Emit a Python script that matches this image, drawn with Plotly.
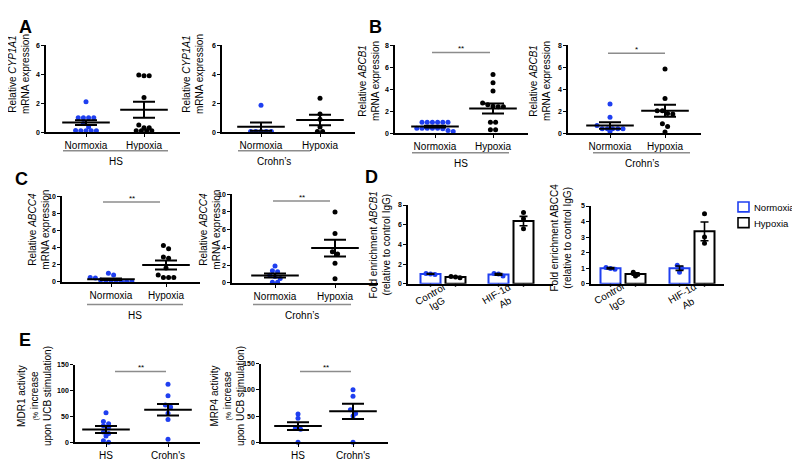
import plotly.graph_objects as go

W, H = 800, 460
BLUE = "#1f3ff0"
BLACK = "#000000"
GRAY = "#8c8c8c"
FONT = "Liberation Sans, Arial, sans-serif"

# ---------------- data ----------------
cats_nh = ["Normoxia", "Hypoxia"]
cats_e = ["HS", "Crohn's"]
cats_d = [["Control", "IgG"], ["HIF-1α", "Ab"]]

# A: CYP1A1
cyp1a1_hs_norm = [2.1, 1.0, 1.0, 1.0, 1.0, 0.6, 0.35, 0.12, 0.1, 0.1, 0.1, 0.1]
cyp1a1_hs_hyp = [3.9, 3.9, 3.95, 2.4, 0.5, 0.3, 0.3, 0.1, 0.1, 0.1, 0.1]
cyp1a1_hs_mean = [0.66, 1.55]
cyp1a1_hs_sem = [0.17, 0.55]
cyp1a1_cd_norm = [1.86, 0.05, 0.05, 0.05, 0.05, 0.05]
cyp1a1_cd_hyp = [2.35, 1.25, 0.9, 0.35, 0.05, 0.05]
cyp1a1_cd_mean = [0.38, 0.84]
cyp1a1_cd_sem = [0.28, 0.37]

# B: ABCB1
abcb1_hs_norm = [1.0, 1.0, 1.0, 1.0, 1.0, 1.0, 0.45, 0.45, 0.45, 0.45, 0.45, 0.4, 0.25, 0.15]
abcb1_hs_hyp = [5.35, 4.6, 3.85, 2.75, 2.6, 2.45, 2.4, 2.4, 1.0, 1.0, 0.3, 0.3]
abcb1_hs_mean = [0.6, 2.25]
abcb1_hs_sem = [0.08, 0.45]
abcb1_cd_norm = [2.65, 1.45, 0.7, 0.4, 0.4, 0.4, 0.4, 0.4, 0.15]
abcb1_cd_hyp = [5.85, 3.15, 2.05, 2.05, 1.8, 1.75, 0.85, 0.6, 0.1]
abcb1_cd_mean = [0.69, 2.05]
abcb1_cd_sem = [0.3, 0.55]

# C: ABCC4
abcc4_hs_norm = [1.0, 0.8, 0.5, 0.45, 0.2, 0.15, 0.1, 0.1, 0.05, 0.05, 0.05]
abcc4_hs_hyp = [4.25, 3.85, 2.9, 2.75, 1.6, 0.8, 0.5, 0.5, 0.5]
abcc4_hs_mean = [0.3, 1.97]
abcc4_hs_sem = [0.1, 0.53]
abcc4_cd_norm = [1.9, 1.35, 1.25, 0.85, 0.7, 0.5, 0.05, 0.05]
abcc4_cd_hyp = [8.0, 5.55, 3.5, 3.25, 2.2, 0.45]
abcc4_cd_mean = [0.83, 3.92]
abcc4_cd_sem = [0.22, 0.95]

# D: ChIP fold enrichment (Control IgG, HIF-1a Ab)
d_abcb1_norm_pts = [[1.05, 1.0, 0.95], [1.05, 0.8, 1.0]]
d_abcb1_hyp_pts = [[0.75, 0.7, 0.62], [7.25, 6.6, 5.6]]
d_abcb1_norm_mean = [1.0, 0.95]
d_abcb1_hyp_mean = [0.7, 6.37]
d_abcb1_norm_sem = [0.03, 0.08]
d_abcb1_hyp_sem = [0.04, 0.48]
d_abcc4_norm_pts = [[1.05, 0.98, 0.93], [1.2, 1.0, 0.75]]
d_abcc4_hyp_pts = [[0.75, 0.6, 0.5], [4.5, 3.0, 2.6]]
d_abcc4_norm_mean = [1.0, 1.0]
d_abcc4_hyp_mean = [0.63, 3.37]
d_abcc4_norm_sem = [0.04, 0.14]
d_abcc4_hyp_sem = [0.08, 0.6]

# E: activity
mdr1_hs = [57, 40, 36, 32, 29, 20, 17, 12, 3, 0]
mdr1_cd = [112, 90, 72, 68, 56, 44, 6]
mdr1_mean = [24.7, 63]
mdr1_sem = [6.6, 11]
mrp4_hs = [54, 46, 27, 25, 0]
mrp4_cd = [100, 88, 62, 55, 50, 0]
mrp4_mean = [31, 59]
mrp4_sem = [7.5, 14.5]

# ---------------- helpers ----------------
fig = go.Figure()
axes = {}
annotations = []
shapes = []
count = [0]


def new_axes(xL, xR, yT, yB, xrange, ymax, dtick, tickvals, ticktext, xticks="outside"):
    count[0] += 1
    n = count[0]
    sx = "" if n == 1 else str(n)
    axes["xaxis" + sx] = dict(
        domain=[xL / W, xR / W], range=xrange, anchor="y" + sx,
        showline=True, linecolor="black", linewidth=1.6,
        ticks=xticks, ticklen=3, tickwidth=1.4, tickcolor="black",
        tickvals=tickvals, ticktext=ticktext,
        tickfont=dict(family=FONT, size=10, color="black"),
        showgrid=False, zeroline=False, fixedrange=True)
    axes["yaxis" + sx] = dict(
        domain=[1 - yB / H, 1 - yT / H], range=[0, ymax], anchor="x" + sx,
        dtick=dtick, tick0=0, showline=True, linecolor="black", linewidth=1.6,
        ticks="outside", ticklen=3, tickwidth=1.4, tickcolor="black",
        tickfont=dict(family=FONT, size=7, color="black", weight="bold"),
        showgrid=False, zeroline=False, fixedrange=True)
    return "x" + sx, "y" + sx


def swarm(vals, ppu, d=5.2):
    """Prism-like row layout: group close values into symmetric rows."""
    order = sorted(range(len(vals)), key=lambda i: -vals[i])
    rows = []
    for i in order:
        if rows and (vals[rows[-1][0]] - vals[i]) * ppu < d * 0.8:
            rows[-1].append(i)
        else:
            rows.append([i])
    offs = [0.0] * len(vals)
    for r in rows:
        n = len(r)
        for k, i in enumerate(r):
            offs[i] = (k - (n - 1) / 2) * d
    return offs


def rotated(text, x, y, angle, size=10, align="center"):
    annotations.append(dict(text=text, x=x / W, y=1 - y / H, xref="paper", yref="paper",
                            textangle=angle, showarrow=False, xanchor="center", yanchor="middle",
                            align=align, font=dict(family=FONT, size=size, color="black")))


def ytitle(text, x, y):
    rotated(text, x - 6, y - 7, -90)


def label(text, x, y, size=10, bold=False):
    annotations.append(dict(text=("<b>%s</b>" % text) if bold else text, x=x / W, y=1 - y / H,
                            xref="paper", yref="paper", showarrow=False,
                            xanchor="center", yanchor="middle",
                            font=dict(family=FONT, size=size, color="black")))


def hline(x0, x1, y, color=GRAY, width=1.5):
    shapes.append(dict(type="line", xref="paper", yref="paper",
                       x0=x0 / W, x1=x1 / W, y0=1 - y / H, y1=1 - y / H,
                       line=dict(color=color, width=width)))


def dot_panel(geo, cats, series, colors, means, sems, ymax, dtick, title, title_xy,
              sig=None, group=None, meanw=34, capw=11):
    xL, xR, yT, yB, c0, c1 = geo
    span = c1 - c0
    ax, ay = new_axes(xL, xR, yT, yB, [(xL - c0) / span, (xR - c0) / span],
                      ymax, dtick, [0, 1], cats)
    ppu = (yB - yT) / ymax
    for ci, (vals, col) in enumerate(zip(series, colors)):
        offs = swarm(vals, ppu)
        fig.add_trace(go.Scatter(
            x=[ci + o / span for o in offs], y=vals, mode="markers",
            marker=dict(size=5, color=col), xaxis=ax, yaxis=ay,
            cliponaxis=False, showlegend=False, hoverinfo="skip"))
    fig.add_trace(go.Scatter(
        x=[0, 1], y=means, mode="markers",
        marker=dict(symbol="line-ew", size=meanw, color="black",
                    line=dict(width=2, color="black")),
        error_y=dict(type="data", array=sems, width=capw, thickness=2, color="black"),
        xaxis=ax, yaxis=ay, cliponaxis=False, showlegend=False, hoverinfo="skip"))
    ytitle(title, *title_xy)
    if sig:
        sx0, sx1, sy, stxt = sig
        hline(sx0, sx1, sy)
        label(stxt, (sx0 + sx1) / 2, sy - 4, size=8)
    if group:
        gx0, gx1, gy, gtxt = group
        hline(gx0, gx1, gy)
        label(gtxt, (gx0 + gx1) / 2, gy + 11, size=10)


def bar_panel(geo, means_n, means_h, sems_n, sems_h, pts_n, pts_h, ymax, dtick, title, title_xy,
              label_xy):
    xL, xR, yT, yB, c0, c1 = geo
    span = c1 - c0
    ax, ay = new_axes(xL, xR, yT, yB, [(xL - c0) / span, (xR - c0) / span],
                      ymax, dtick, [], [], xticks="")
    bw = 20 / span
    gap = 2.5 / span
    ppu = (yB - yT) / ymax
    for sign, means, sems, pts, col in ((-1, means_n, sems_n, pts_n, BLUE),
                                        (1, means_h, sems_h, pts_h, BLACK)):
        centers = [ci + sign * (gap + bw / 2) for ci in range(2)]
        fig.add_trace(go.Bar(
            x=centers, y=means, width=bw, marker=dict(color="white", line=dict(color=col, width=2)),
            xaxis=ax, yaxis=ay, showlegend=False, hoverinfo="skip"))
        for ci, vals in enumerate(pts):
            offs = swarm(vals, ppu, d=4.5)
            fig.add_trace(go.Scatter(
                x=[centers[ci] + o / span for o in offs], y=vals, mode="markers",
                marker=dict(size=5, color=col), xaxis=ax, yaxis=ay,
                cliponaxis=False, showlegend=False, hoverinfo="skip"))
        fig.add_trace(go.Scatter(
            x=centers, y=means, mode="markers", marker=dict(size=1, color="rgba(0,0,0,0)"),
            error_y=dict(type="data", array=sems, width=4, thickness=1.6, color="black"),
            xaxis=ax, yaxis=ay, cliponaxis=False, showlegend=False, hoverinfo="skip"))
        # ticks under each bar
        for c in centers:
            shapes.append(dict(type="line", xref=ax, yref="paper", x0=c, x1=c,
                               y0=1 - yB / H, y1=1 - (yB + 3) / H,
                               line=dict(color="black", width=1.4)))
    ytitle(title, *title_xy)
    for words, pos in zip(cats_d, label_xy):
        for word, (lx, ly) in zip(words, pos):
            rotated(word, lx - 3, ly - 2, -30, size=10)


# ---------------- panels ----------------
dot_panel((38, 172, 34, 122, 78, 136), cats_nh, [cyp1a1_hs_norm, cyp1a1_hs_hyp], [BLUE, BLACK],
          cyp1a1_hs_mean, cyp1a1_hs_sem, 6, 2,
          "Relative <i>CYP1A1</i><br>mRNA expression", (17, 70),
          group=(55, 160, 141, "HS"))
dot_panel((214, 347, 34, 122, 253, 312), cats_nh, [cyp1a1_cd_norm, cyp1a1_cd_hyp], [BLUE, BLACK],
          cyp1a1_cd_mean, cyp1a1_cd_sem, 6, 2,
          "Relative <i>CYP1A1</i><br>mRNA expression", (191, 70),
          group=(230, 302, 141, "Crohn’s"))
dot_panel((387, 520, 34, 123, 427, 485), cats_nh, [abcb1_hs_norm, abcb1_hs_hyp], [BLUE, BLACK],
          abcb1_hs_mean, abcb1_hs_sem, 8, 2,
          "Relative <i>ABCB1</i><br>mRNA expression", (367, 77),
          sig=(424, 482, 41, "**"), group=(404, 501, 143, "HS"))
dot_panel((560, 693, 34, 123, 602, 657), cats_nh, [abcb1_cd_norm, abcb1_cd_hyp], [BLUE, BLACK],
          abcb1_cd_mean, abcb1_cd_sem, 8, 2,
          "Relative <i>ABCB1</i><br>mRNA expression", (538, 77),
          sig=(600, 657, 42, "*"), group=(585, 682, 143, "Crohn’s"))
dot_panel((54, 192, 187, 274, 103, 158), cats_nh, [abcc4_hs_norm, abcc4_hs_hyp], [BLUE, BLACK],
          abcc4_hs_mean, abcc4_hs_sem, 10, 2,
          "Relative <i>ABCC4</i><br>mRNA expression", (37, 228),
          sig=(95, 152, 193, "**"), group=(79, 175, 297, "HS"))
dot_panel((224, 370, 185, 275, 267, 327), cats_nh, [abcc4_cd_norm, abcc4_cd_hyp], [BLUE, BLACK],
          abcc4_cd_mean, abcc4_cd_sem, 10, 2,
          "Relative <i>ABCC4</i><br>mRNA expression", (208, 228),
          sig=(265, 322, 192, "**"), group=(245, 343, 297, "Crohn’s"))
bar_panel((400, 545, 196, 276, 435, 503), d_abcb1_norm_mean, d_abcb1_hyp_mean,
          d_abcb1_norm_sem, d_abcb1_hyp_sem, d_abcb1_norm_pts, d_abcb1_hyp_pts, 8, 2,
          "Fold enrichment <i>ABCB1</i><br>(relative to control IgG)", (378, 244),
          [[(425, 289), (432, 298)], [(492, 288), (500, 297)]])
bar_panel((583, 716, 197, 276, 615, 684), d_abcc4_norm_mean, d_abcc4_hyp_mean,
          d_abcc4_norm_sem, d_abcc4_hyp_sem, d_abcc4_norm_pts, d_abcc4_hyp_pts, 5, 1,
          "Fold enrichment ABCC4<br>(relative to control IgG)", (559, 236),
          [[(604, 288), (612, 298)], [(677, 288), (683, 298)]])
dot_panel((67, 192, 358, 437, 98, 160), cats_e, [mdr1_hs, mdr1_cd], [BLUE, BLUE],
          mdr1_mean, mdr1_sem, 150, 50,
          "MDR1 activity<br><span style='font-size:7px'>(%</span> increase<br>upon UCB stimulation)", (32, 397),
          sig=(107, 158, 365, "**"))
dot_panel((253, 380, 357, 437, 290, 345), cats_e, [mrp4_hs, mrp4_cd], [BLUE, BLUE],
          mrp4_mean, mrp4_sem, 150, 50,
          "MRP4 activity<br><span style='font-size:7px'>(%</span> increase<br>upon UCB stimulation)", (225, 397),
          sig=(292, 343, 365, "**"))

# legend (manual)
for (yc, col, txt) in ((198, BLUE, "Normoxia"), (214, BLACK, "Hypoxia")):
    shapes.append(dict(type="rect", xref="paper", yref="paper",
                       x0=730 / W, x1=741 / W, y0=1 - (yc - 5) / H, y1=1 - (yc + 5) / H,
                       line=dict(color=col, width=1.6), fillcolor="white"))
    annotations.append(dict(text=txt, x=744 / W, y=1 - (yc + 1) / H, xref="paper", yref="paper",
                            showarrow=False, xanchor="left", yanchor="middle",
                            font=dict(family=FONT, size=9.5, color="black")))

# panel letters
for letter, x, y in (("A", 17, 15), ("B", 367, 15), ("C", 13, 170), ("D", 363, 168), ("E", 17, 333)):
    label(letter, x, y, size=18, bold=True)

fig.update_layout(
    width=W, height=H, margin=dict(l=0, r=0, t=0, b=0),
    paper_bgcolor="white", plot_bgcolor="white",
    showlegend=False, barmode="overlay",
    font=dict(family=FONT, color="black"),
    annotations=annotations, shapes=shapes, **axes)

fig.write_html("out.html", config={"displayModeBar": False})
